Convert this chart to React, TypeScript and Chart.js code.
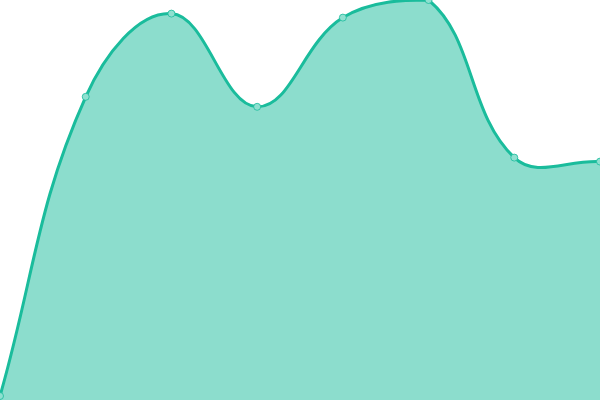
import { useEffect, useRef } from "react"
import { Chart, registerables } from "chart.js"

Chart.register(...registerables)

const labels = ["1", "2", "3", "4", "5", "6", "7", "8"]
const values = [1, 75.8, 96.6, 73.3, 95.6, 100, 60.6, 59.6]

export default function App() {
  const chartRef = useRef<HTMLCanvasElement>(null)
  const chartInstance = useRef<Chart | null>(null)

  useEffect(() => {
    document.body.style.margin = "0"
    if (!chartRef.current) return
    if (chartInstance.current) chartInstance.current.destroy()
    const ctx = chartRef.current.getContext("2d")
    if (!ctx) return

    chartInstance.current = new Chart(ctx, {
      type: "line",
      data: {
        labels,
        datasets: [
          {
            data: values,
            fill: "origin",
            backgroundColor: "rgba(26, 188, 156, 0.5)",
            borderColor: "#1abc9c",
            borderWidth: 3,
            tension: 0.4,
            pointRadius: 3.5,
            pointBackgroundColor: "#8fe0d0",
            pointBorderColor: "rgba(26, 188, 156, 0.8)",
            pointBorderWidth: 1,
          },
        ],
      },
      options: {
        responsive: true,
        maintainAspectRatio: false,
        animation: false,
        layout: { padding: 0, autoPadding: false },
        plugins: {
          legend: { display: false },
          tooltip: { enabled: false },
        },
        scales: {
          x: { display: false },
          y: { display: false, min: 0, max: 100 },
        },
      },
    })

    return () => {
      if (chartInstance.current) chartInstance.current.destroy()
    }
  }, [])

  return (
    <div style={{ width: 600, height: 400, position: "relative" }}>
      <canvas ref={chartRef} />
    </div>
  )
}
